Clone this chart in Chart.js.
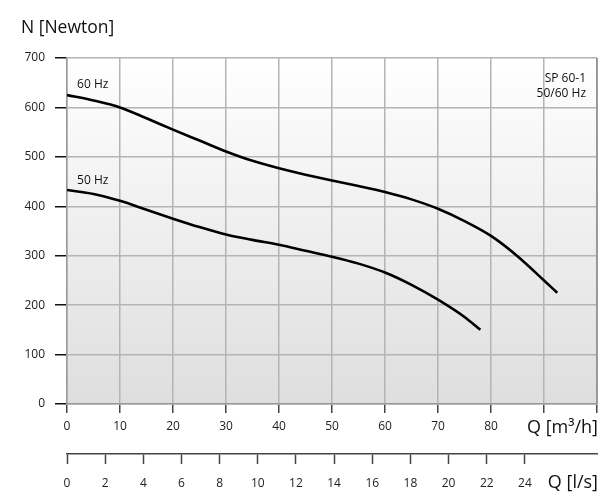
<!DOCTYPE html>
<html>
<head>
<meta charset="utf-8">
<script src="https://cdn.jsdelivr.net/npm/chart.js@4/dist/chart.umd.min.js"></script>
<style>
  html, body { margin: 0; padding: 0; background: #fff; }
  #pumpChart { display: block; }
</style>
</head>
<body>
<canvas id="pumpChart" width="608" height="495"></canvas>
<script>
// flow in m3/h and axial force in N
const q60 = [0, 5, 10, 15, 20, 25, 30, 35, 40, 45, 50, 55, 60, 65, 70, 75, 80, 85, 90, 92.5];
const n60 = [625, 614, 600, 578, 555, 533, 511, 492, 477, 464, 452, 441, 429, 414, 395, 370, 340, 299, 250, 225];
const q50 = [0, 5, 10, 15, 20, 25, 30, 35, 40, 45, 50, 55, 60, 65, 70, 75, 78];
const n50 = [433, 425, 411, 393, 375, 358, 343, 332, 322, 310, 298, 284, 266, 241, 211, 176, 150];

const yTicks = [0, 100, 200, 300, 400, 500, 600, 700];
const qTicksM3h = [0, 10, 20, 30, 40, 50, 60, 70, 80];
const qTicksLs = [0, 2, 4, 6, 8, 10, 12, 14, 16, 18, 20, 22, 24];

const FONT = '"Open Sans", "Noto Sans", sans-serif';

const toPoints = (xs, ys) => xs.map((x, i) => ({ x: x, y: ys[i] }));

const ctx = document.getElementById('pumpChart').getContext('2d');

// gradient plot background + texts that are not ticks
const decor = {
  id: 'decor',
  beforeDraw(chart) {
    const a = chart.chartArea;
    const c = chart.ctx;
    const g = c.createLinearGradient(0, a.top, 0, a.bottom);
    g.addColorStop(0, '#ffffff');
    g.addColorStop(1, '#dedede');
    c.save();
    c.fillStyle = g;
    c.fillRect(a.left, a.top, a.right - a.left, a.bottom - a.top);
    c.restore();
  },
  afterDraw(chart) {
    const c = chart.ctx;
    const x = chart.scales.x;
    const y = chart.scales.y;
    const a = chart.chartArea;
    c.save();
    // right frame line is a bit darker
    c.strokeStyle = '#8c8c8c';
    c.lineWidth = 1.5;
    c.beginPath();
    c.moveTo(a.right, a.top);
    c.lineTo(a.right, a.bottom);
    c.stroke();

    c.fillStyle = '#111';
    c.textBaseline = 'middle';

    c.font = '17.5px ' + FONT;
    c.textAlign = 'left';
    c.fillText('N [Newton]', 21, 28);

    c.textAlign = 'right';
    c.font = '18px ' + FONT;
    c.fillText('Q [m³/h]', a.right + 1, 428);
    c.fillText('Q [l/s]', a.right + 1, 483);

    c.font = '12px ' + FONT;
    c.textAlign = 'left';
    c.fillText('60 Hz', x.getPixelForValue(1.9), y.getPixelForValue(646));
    c.fillText('50 Hz', x.getPixelForValue(1.9), y.getPixelForValue(453));
    c.textAlign = 'right';
    c.fillText('SP 60-1', a.right - 11, y.getPixelForValue(659));
    c.fillText('50/60 Hz', a.right - 11, y.getPixelForValue(628));
    c.restore();
  }
};

const curve = {
  borderColor: '#000',
  borderWidth: 2.6,
  pointRadius: 0,
  fill: false,
  cubicInterpolationMode: 'monotone'
};

const myChart = new Chart(ctx, {
  type: 'line',
  data: {
    datasets: [
      Object.assign({ label: '60 Hz', data: toPoints(q60, n60) }, curve),
      Object.assign({ label: '50 Hz', data: toPoints(q50, n50) }, curve)
    ]
  },
  options: {
    responsive: false,
    animation: false,
    layout: { padding: { top: 58, right: 11, left: 0, bottom: 0 } },
    scales: {
      x: {
        type: 'linear',
        position: 'bottom',
        min: 0,
        max: 100,
        afterBuildTicks: s => { s.ticks = [...qTicksM3h, 90, 100].map(v => ({ value: v })); },
        afterFit: s => { s.height = 50; },
        ticks: {
          font: { family: FONT, size: 12 },
          color: '#222',
          padding: 6,
          maxRotation: 0,
          autoSkip: false,
          callback: v => qTicksM3h.includes(v) ? String(v) : ''
        },
        grid: { color: '#b4b4b4', lineWidth: 1.5, tickLength: 9, tickColor: '#444', tickWidth: 1.5 },
        border: { color: '#999', width: 1.5 }
      },
      x2: {
        type: 'linear',
        position: 'bottom',
        min: 0,
        max: 100 / 3.6,
        afterBuildTicks: s => { s.ticks = qTicksLs.map(v => ({ value: v })); },
        afterFit: s => { s.height = 41; },
        ticks: {
          font: { family: FONT, size: 12 },
          color: '#222',
          padding: 12,
          maxRotation: 0,
          autoSkip: false
        },
        grid: { drawOnChartArea: false, tickLength: 10, tickColor: '#444', tickWidth: 1.5 },
        border: { color: '#444', width: 1.5 }
      },
      y: {
        min: 0,
        max: 700,
        afterBuildTicks: s => { s.ticks = yTicks.map(v => ({ value: v })); },
        afterFit: s => { s.width = 67; },
        ticks: {
          font: { family: FONT, size: 12 },
          color: '#222',
          padding: 10
        },
        grid: { color: '#b4b4b4', lineWidth: 1.5, tickLength: 12, tickColor: '#111', tickWidth: 1.5 },
        border: { color: '#999', width: 1.5 }
      }
    },
    plugins: {
      legend: { display: false },
      tooltip: { enabled: false }
    }
  },
  plugins: [decor]
});
</script>
</body>
</html>
